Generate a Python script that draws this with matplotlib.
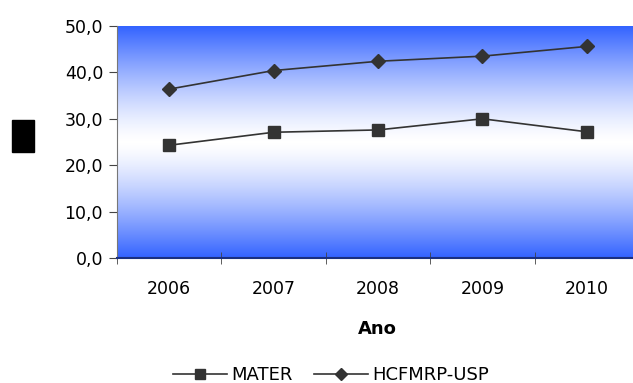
import matplotlib
matplotlib.use("Agg")
import matplotlib.pyplot as plt
import numpy as np
from matplotlib.colors import LinearSegmentedColormap
from matplotlib.patches import Rectangle
from matplotlib.lines import Line2D

plt.rcParams['font.family'] = ['DejaVu Sans']

anos = ["2006", "2007", "2008", "2009", "2010"]
mater = [24.3, 27.1, 27.6, 30.0, 27.2]
hcfmrp = [36.4, 40.4, 42.4, 43.5, 45.6]
y_ticks = [0, 10, 20, 30, 40, 50]
y_labels = ["0,0", "10,0", "20,0", "30,0", "40,0", "50,0"]

fig = plt.figure(figsize=(6.33, 3.83), dpi=100)
ax = fig.add_axes([117 / 633, 1 - 258 / 383, 522 / 633, 232 / 383])

# blue -> white -> blue background, smooth around the middle
grad = LinearSegmentedColormap.from_list("fundo", ["#ffffff", "#3363ff"])
t = np.linspace(-1, 1, 512)
shade = np.abs(t) ** 1.35
ax.imshow(shade.reshape(-1, 1), cmap=grad, aspect="auto", vmin=0, vmax=1,
          extent=[-0.5, 4.5, 0, 50], origin="lower", zorder=0,
          interpolation="bilinear")

x = np.arange(len(anos))
ax.plot(x, mater, color="#333333", lw=1.2, marker="s", ms=8, zorder=3)
ax.plot(x, hcfmrp, color="#333333", lw=1.2, marker="D", ms=7.5, zorder=3)

ax.set_xlim(-0.5, 4.5)
ax.set_ylim(0, 50)
ax.set_yticks(y_ticks)
ax.set_yticklabels(y_labels, fontsize=12.5)
ax.set_xticks(x)
ax.set_xticklabels(anos, fontsize=12.5)
ax.set_xticks(np.arange(-0.5, 4.6, 1), minor=True)
ax.tick_params(axis="x", which="major", length=0, pad=16)
ax.tick_params(axis="x", which="minor", length=8, direction="inout", color="#444444")
ax.tick_params(axis="y", length=6, color="#444444", pad=4)

for side in ["top", "right"]:
    ax.spines[side].set_visible(False)
ax.spines["left"].set_color("#777777")
ax.spines["bottom"].set_color("#1a2f80")
ax.spines["bottom"].set_linewidth(1.5)

fig.text(377 / 633, 1 - 329 / 383, "Ano", ha="center", va="center",
         fontsize=13, fontweight="bold")

# black block on the left
fig.patches.append(Rectangle((12 / 633, 1 - 152 / 383), 22 / 633, 32 / 383,
                             transform=fig.transFigure, color="black"))

handles = [Line2D([], [], color="#333333", lw=1.2, marker="s", ms=7),
           Line2D([], [], color="#333333", lw=1.2, marker="D", ms=6.5)]
fig.legend(handles, ["MATER", "HCFMRP-USP"], loc="center",
           bbox_to_anchor=(331 / 633, 1 - 375 / 383), ncol=2, frameon=False,
           fontsize=13, handlelength=3.0, handletextpad=0.2, columnspacing=1.2)

fig.savefig("out.png", dpi=100)
